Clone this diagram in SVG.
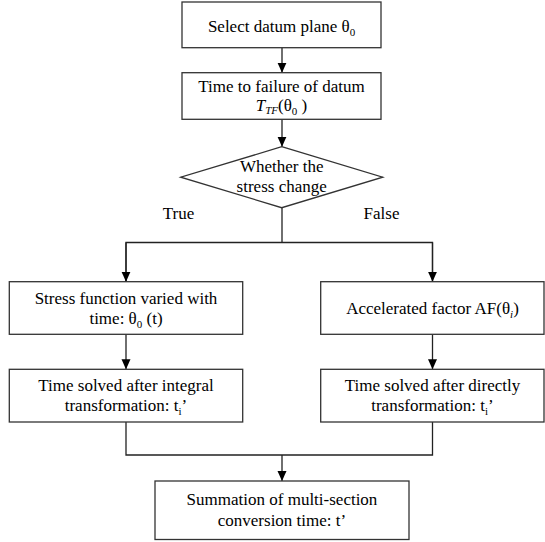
<svg xmlns="http://www.w3.org/2000/svg" width="545" height="542" viewBox="0 0 545 542">
<style>
.box{fill:#fff;stroke:#333;stroke-width:1.3}
.ln{fill:none;stroke:#222;stroke-width:1.3}
.t{font-family:'Liberation Serif',serif;font-size:17px;fill:#000;text-anchor:middle}
.sub{font-size:11px}
</style>
<defs>
<marker id="ah" markerUnits="userSpaceOnUse" markerWidth="10" markerHeight="10" refX="10" refY="5" orient="auto">
<path d="M0,0.5 L10,5 L0,9.5 z" fill="#000"/>
</marker>
</defs>
<rect width="545" height="542" fill="#fff"/>
<g id="connectors">
<line class="ln" x1="282" y1="47.7" x2="282" y2="72.7" marker-end="url(#ah)"/>
<line class="ln" x1="282" y1="119.3" x2="282" y2="146.7" marker-end="url(#ah)"/>
<polyline class="ln" points="282,207.7 282,242.5"/>
<polyline class="ln" points="126,281.7 126,242.5 432.5,242.5 432.5,281.7"/>
<line class="ln" x1="126" y1="242.5" x2="126" y2="281.7" marker-end="url(#ah)"/>
<line class="ln" x1="432.5" y1="242.5" x2="432.5" y2="281.7" marker-end="url(#ah)"/>
<line class="ln" x1="126" y1="334.3" x2="126" y2="369.3" marker-end="url(#ah)"/>
<line class="ln" x1="432.5" y1="334.3" x2="432.5" y2="369.3" marker-end="url(#ah)"/>
<polyline class="ln" points="126,422 126,455 432.5,455 432.5,422"/>
<line class="ln" x1="282" y1="455" x2="282" y2="481" marker-end="url(#ah)"/>
</g>
<g id="n1">
<rect class="box" x="182" y="2" width="199" height="45.7"/>
<text class="t" x="281.5" y="31.5">Select datum plane θ<tspan class="sub" dy="4">0</tspan></text>
</g>
<g id="n2">
<rect class="box" x="182" y="72.7" width="199" height="46.6"/>
<text class="t" x="281.5" y="91.7">Time to failure of datum</text>
<text class="t" x="281.5" y="110.7"><tspan font-style="italic">T</tspan><tspan class="sub" font-style="italic" dy="3">TF</tspan><tspan dy="-3">(θ</tspan><tspan class="sub" dy="4">0</tspan><tspan dy="-4">  )</tspan></text>
</g>
<g id="n3">
<polygon class="box" points="281.7,146.7 382.7,177.2 281.7,207.7 180.7,177.2"/>
<text class="t" x="281.7" y="172.3">Whether the</text>
<text class="t" x="281.7" y="191.7">stress change</text>
</g>
<g id="labels">
<text class="t" x="178.5" y="219">True</text>
<text class="t" x="381.5" y="219">False</text>
</g>
<g id="n4">
<rect class="box" x="9.3" y="281.7" width="233.4" height="52.6"/>
<text class="t" x="126" y="304">Stress function varied with</text>
<text class="t" x="126" y="324">time: θ<tspan class="sub" dy="4">0</tspan><tspan dy="-4">  (t)</tspan></text>
</g>
<g id="n5">
<rect class="box" x="320.7" y="281.7" width="223.3" height="52.6"/>
<text class="t" x="432.5" y="314">Accelerated factor AF(θ<tspan class="sub" font-style="italic" dy="4">i</tspan><tspan dy="-4">)</tspan></text>
</g>
<g id="n6">
<rect class="box" x="9.3" y="369.3" width="233.4" height="52.7"/>
<text class="t" x="126" y="391">Time solved after integral</text>
<text class="t" x="126" y="411">transformation: t<tspan class="sub" dy="4">i</tspan><tspan dy="-4">’</tspan></text>
</g>
<g id="n7">
<rect class="box" x="320.7" y="369.3" width="223.3" height="52.7"/>
<text class="t" x="432.5" y="391">Time solved after directly</text>
<text class="t" x="432.5" y="411">transformation: t<tspan class="sub" dy="4">i</tspan><tspan dy="-4">’</tspan></text>
</g>
<g id="n8">
<rect class="box" x="155" y="481" width="254" height="58.5"/>
<text class="t" x="282" y="505">Summation of multi-section</text>
<text class="t" x="282" y="526">conversion time: t’</text>
</g>
</svg>
